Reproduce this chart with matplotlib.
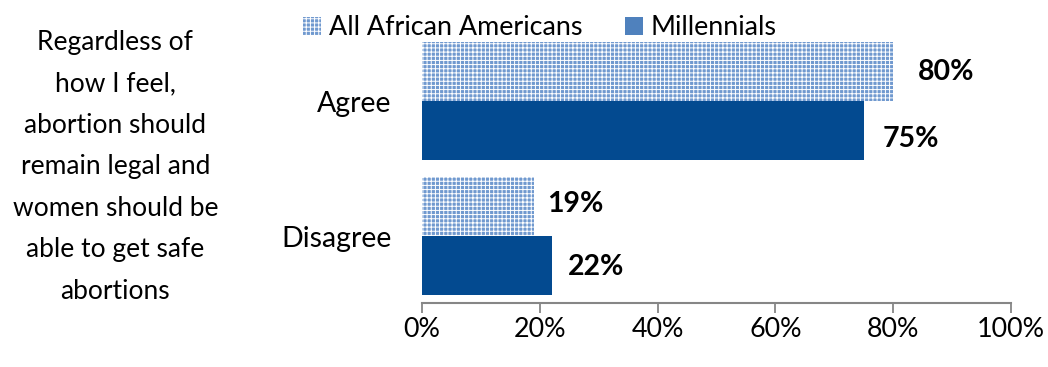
import matplotlib.pyplot as plt
from matplotlib.patches import Patch

plt.rcParams['font.family'] = ['Lato', 'DejaVu Sans']
plt.rcParams['hatch.linewidth'] = 0.7

categories = ["Agree", "Disagree"]
all_african_americans = [80, 19]
millennials = [75, 22]
series_names = ["All African Americans", "Millennials"]
x_ticks = [0, 20, 40, 60, 80, 100]
x_tick_labels = ["0%", "20%", "40%", "60%", "80%", "100%"]
question = ("Regardless of\nhow I feel,\nabortion should\nremain legal and\n"
            "women should be\nable to get safe\nabortions")

hatch_face = "#7099cf"
solid_color = "#034a90"
legend_solid = "#4f81bd"
axis_gray = "#868686"

fig = plt.figure(figsize=(10.48, 3.67), dpi=100)
ax = fig.add_axes([0.4027, 0.1744, 0.9647 - 0.4027, 0.9087 - 0.1744])

pos = [1, 0]
h = 0.437
ax.barh([p + h / 2 for p in pos], all_african_americans, height=h,
        color=hatch_face, edgecolor="white", hatch="++++", linewidth=0)
ax.barh([p - h / 2 for p in pos], millennials, height=h,
        color=solid_color, linewidth=0)

# value labels sit just past the end of each bar (offsets in pixels, +y is down)
label_offsets = [(25, 0), (19, 8), (13, -3), (16, 1)]
marks = [(all_african_americans[0], pos[0] + h / 2), (millennials[0], pos[0] - h / 2),
         (all_african_americans[1], pos[1] + h / 2), (millennials[1], pos[1] - h / 2)]
for (val, y), (dx, dy) in zip(marks, label_offsets):
    ax.annotate(f"{val}%", (val, y), xytext=(dx * 0.72, -dy * 0.72),
                textcoords="offset points", ha="left", va="center",
                fontsize=20.5, fontweight="bold", color="black")

ax.set_xlim(0, 100)
ax.set_ylim(-0.496, 1.5)
ax.set_xticks(x_ticks)
ax.set_xticklabels(x_tick_labels, fontsize=19.4)
ax.set_yticks(pos)
ax.set_yticklabels(categories, fontsize=20.5)
ax.tick_params(axis="x", direction="out", length=7.2, width=1.3, color=axis_gray, pad=3)
ax.tick_params(axis="y", length=0, pad=22)
for side in ["top", "right", "left"]:
    ax.spines[side].set_visible(False)
ax.spines["bottom"].set_color(axis_gray)
ax.spines["bottom"].set_linewidth(1.5)

handles = [Patch(facecolor=hatch_face, edgecolor="white", hatch="++++", linewidth=0),
           Patch(facecolor=legend_solid, linewidth=0)]
fig.legend(handles, series_names, loc="center left", bbox_to_anchor=(0.289, 0.924),
           ncol=2, frameon=False, fontsize=19.4, handlelength=0.67, handleheight=0.67,
           handletextpad=0.3, columnspacing=1.56, borderaxespad=0, borderpad=0)

fig.text(0.11, 0.545, question, ha="center", va="center", fontsize=19,
         linespacing=1.82)

fig.savefig("out.png", dpi=100)
